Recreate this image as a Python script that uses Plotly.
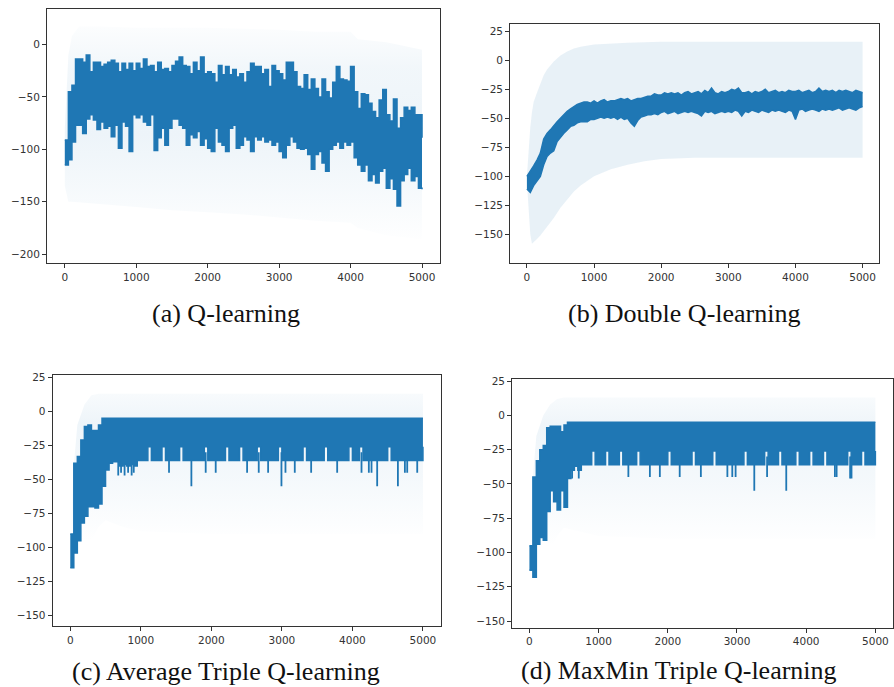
import plotly.graph_objects as go

# ---------------- data ----------------
EPISODES = list(range(0, 5001, 50))          # sample points of the dense mean curves
X_TICKS = [0, 1000, 2000, 3000, 4000, 5000]
A_Y_TICKS = [-200, -150, -100, -50, 0]
BCD_Y_TICKS = [-150, -125, -100, -75, -50, -25, 0, 25]

CAPTIONS = ["(a) Q-learning", "(b) Double Q-learning",
            "(c) Average Triple Q-learning", "(d) MaxMin Triple Q-learning"]

# (a) Q-learning : upper / lower envelope of the noisy mean reward curve
a_hi = [-91, -45, -39, -14, -14, -17, -10, -26, -17, -17,
        -21, -19, -17, -15, -18, -26, -18, -24, -18, -25,
        -18, -23, -14, -21, -20, -26, -17, -24, -23, -26,
        -20, -16, -12, -20, -21, -28, -17, -25, -12, -28,
        -26, -28, -36, -20, -29, -21, -29, -24, -31, -28,
        -36, -26, -18, -21, -21, -28, -24, -40, -20, -25,
        -28, -34, -17, -17, -26, -40, -42, -29, -43, -33,
        -42, -50, -33, -45, -51, -36, -21, -33, -34, -35,
        -21, -45, -61, -47, -48, -56, -64, -70, -53, -43,
        -67, -73, -52, -80, -70, -60, -63, -60, -67, -67,
        -89]
a_lo = [-115, -110, -93, -77, -77, -85, -71, -67, -72, -81,
        -74, -80, -78, -88, -77, -99, -74, -78, -102, -67,
        -70, -67, -74, -77, -67, -101, -89, -80, -96, -80,
        -71, -71, -77, -80, -96, -86, -89, -83, -96, -90,
        -99, -102, -80, -93, -96, -102, -80, -77, -99, -96,
        -88, -91, -102, -88, -91, -88, -93, -91, -96, -93,
        -102, -108, -96, -88, -93, -99, -100, -99, -105, -119,
        -105, -102, -113, -121, -100, -96, -93, -99, -93, -96,
        -93, -108, -115, -121, -115, -130, -124, -132, -121, -118,
        -137, -128, -138, -154, -130, -124, -118, -130, -126, -137,
        -138]
a_band_x = [0, 50, 100, 200, 500, 1000, 1500, 2000, 2500, 3000, 3500, 4000, 4100, 4500, 5000]
a_band_hi = [-80, -10, 8, 17, 17, 16, 16, 16, 15, 14, 12, 12, 5, 2, -5]
a_band_lo = [-135, -150, -150, -150, -152, -155, -158, -160, -162, -165, -168, -170, -175, -182, -186]

# (b) Double Q-learning
b_hi = [-100, -96, -91, -86, -80, -68, -63, -60, -56, -53,
        -50, -47, -44, -42, -40, -38, -37, -36, -36, -37,
        -35, -37, -35, -34, -36, -35, -35, -34, -33, -34,
        -33, -35, -34, -33, -33, -32, -31, -31, -29, -30,
        -30, -28, -29, -28, -29, -28, -30, -28, -27, -29,
        -28, -27, -29, -26, -28, -24, -28, -29, -27, -28,
        -27, -25, -26, -24, -28, -28, -27, -29, -27, -28,
        -27, -25, -28, -27, -26, -28, -27, -28, -26, -27,
        -27, -26, -28, -27, -26, -28, -27, -24, -27, -26,
        -27, -26, -28, -26, -27, -26, -27, -28, -26, -27,
        -28]
b_lo = [-111, -114, -108, -104, -100, -90, -83, -80, -78, -70,
        -66, -63, -60, -57, -56, -54, -53, -53, -53, -51,
        -51, -50, -49, -50, -49, -50, -49, -51, -49, -51,
        -50, -54, -57, -52, -49, -48, -47, -47, -46, -47,
        -45, -44, -46, -45, -44, -46, -45, -44, -45, -44,
        -45, -46, -48, -44, -45, -44, -46, -45, -44, -45,
        -44, -45, -43, -44, -48, -44, -45, -43, -44, -45,
        -43, -44, -45, -43, -44, -43, -44, -45, -43, -44,
        -51, -43, -42, -44, -43, -42, -43, -44, -42, -43,
        -42, -43, -42, -41, -43, -42, -41, -42, -43, -41,
        -40]
b_band_x = [0, 25, 50, 75, 100, 150, 200, 250, 300, 400, 500, 600, 700, 800,
            1000, 1250, 1500, 1750, 2000, 2500, 3000, 3500, 4000, 4500, 5000]
b_band_hi = [-100, -75, -58, -45, -36, -28, -20, -13, -8, -1, 4, 7.5, 10, 11.5,
             13.5, 14.5, 15, 15.5, 16, 16, 16, 16, 16, 16, 16]
b_band_lo = [-105, -130, -150, -158, -157, -154, -151, -147, -144, -136, -127, -120, -113, -108,
             -100, -94, -90, -87, -85, -84, -84, -84, -84, -84, -84]

# (c) Average Triple Q-learning
c_hi = [-90, -38, -33, -21, -11, -10, -14, -14, -10, -5,
        -5, -5, -5, -5, -5, -5, -5, -5, -5, -5,
        -5, -5, -5, -5, -5, -5, -5, -5, -5, -5,
        -5, -5, -5, -5, -5, -5, -5, -5, -5, -5,
        -5, -5, -5, -5, -5, -5, -5, -5, -5, -5,
        -5, -5, -5, -5, -5, -5, -5, -5, -5, -5,
        -5, -5, -5, -5, -5, -5, -5, -5, -5, -5,
        -5, -5, -5, -5, -5, -5, -5, -5, -5, -5,
        -5, -5, -5, -5, -5, -5, -5, -5, -5, -5,
        -5, -5, -5, -5, -5, -5, -5, -5, -5, -5,
        -5]
c_lo = [-115, -104, -95, -82, -77, -70, -70, -71, -68, -55,
        -43, -38, -37, -37, -40, -39, -40, -39, -40, -36,
        -36, -36, -26, -36, -36, -36, -26, -36, -36, -36,
        -36, -26, -36, -36, -36, -36, -36, -36, -26, -36,
        -36, -36, -36, -36, -26, -36, -36, -36, -26, -36,
        -36, -36, -36, -26, -36, -36, -36, -36, -36, -26,
        -36, -36, -36, -36, -36, -36, -26, -36, -36, -36,
        -36, -36, -26, -36, -36, -36, -36, -36, -36, -26,
        -36, -36, -26, -36, -36, -36, -36, -36, -36, -36,
        -26, -36, -36, -36, -36, -36, -36, -36, -36, -36,
        -26]
# thin downward spikes of the mean curve (episode, reward)
c_spike_x = [680, 720, 770, 820, 870, 900, 1400, 1717, 1920, 2062, 2507, 2672, 2805,
             2994, 3051, 3183, 3415, 3784, 4129, 4233, 4271, 4351, 4645, 4744, 4777, 4919]
c_spike_y = [-47, -45, -47, -45, -47, -45, -45, -55, -45, -45, -45, -45, -45,
             -55, -45, -45, -45, -45, -45, -45, -45, -55, -55, -45, -45, -45]
c_band_x = [0, 50, 100, 200, 300, 400, 500, 750, 1000, 2000, 3000, 4000, 5000]
c_band_hi = [-95, -40, -10, 5, 12, 13, 13, 13, 13, 13, 13, 13, 13]
c_band_lo = [-140, -135, -125, -110, -95, -85, -80, -85, -88, -90, -90, -90, -90]

# (d) MaxMin Triple Q-learning
d_hi = [-95, -45, -33, -25, -22, -9, -8, -8, -8, -12,
        -7, -5, -5, -5, -5, -5, -5, -5, -5, -5,
        -5, -5, -5, -5, -5, -5, -5, -5, -5, -5,
        -5, -5, -5, -5, -5, -5, -5, -5, -5, -5,
        -5, -5, -5, -5, -5, -5, -5, -5, -5, -5,
        -5, -5, -5, -5, -5, -5, -5, -5, -5, -5,
        -5, -5, -5, -5, -5, -5, -5, -5, -5, -5,
        -5, -5, -5, -5, -5, -5, -5, -5, -5, -5,
        -5, -5, -5, -5, -5, -5, -5, -5, -5, -5,
        -5, -5, -5, -5, -5, -5, -5, -5, -5, -5,
        -5]
d_lo = [-113, -118, -94, -89, -91, -70, -55, -63, -69, -55,
        -67, -46, -40, -37, -40, -36, -36, -36, -26, -36,
        -36, -36, -26, -36, -36, -36, -26, -36, -36, -36,
        -36, -26, -36, -36, -36, -36, -36, -36, -36, -36,
        -26, -36, -36, -36, -36, -36, -36, -26, -36, -36,
        -36, -36, -36, -26, -36, -36, -36, -36, -36, -36,
        -36, -36, -26, -36, -36, -36, -36, -36, -26, -36,
        -36, -36, -26, -36, -36, -36, -36, -26, -36, -36,
        -36, -26, -36, -36, -36, -26, -36, -36, -36, -36,
        -36, -36, -26, -36, -36, -36, -26, -36, -36, -36,
        -26]
d_spike_x = [617, 713, 1430, 1741, 1885, 2172, 2478, 2861, 2932, 2980,
             3250, 3435, 3712, 4415, 4440, 4635, 4655]
d_spike_y = [-46, -46, -45, -45, -45, -45, -45, -45, -45, -45,
             -55, -45, -55, -45, -45, -46, -46]
d_band_x = [0, 50, 100, 200, 300, 400, 500, 750, 1000, 2000, 3000, 4000, 5000]
d_band_hi = [-100, -45, -15, 0, 8, 12, 13, 13, 13, 13, 13, 13, 13]
d_band_lo = [-145, -140, -130, -115, -100, -88, -82, -85, -88, -90, -90, -90, -90]

for arr in (a_hi, a_lo, b_hi, b_lo, c_hi, c_lo, d_hi, d_lo):
    assert len(arr) == len(EPISODES)
assert len(c_spike_x) == len(c_spike_y) and len(d_spike_x) == len(d_spike_y)

# ---------------- styling / layout ----------------
W, H = 894, 687
BLUE = "#1f77b4"
TICK_FONT = dict(family="DejaVu Sans", size=10.5, color="#333333")
CAP_FONT = dict(family="Liberation Serif", size=26, color="#111111")


def px_x(v):
    return v / W


def px_y(v):
    return 1 - v / H


# pixel boxes of the four axes (left, right, top, bottom)
BOXES = [(47, 440.3, 5, 261), (510.7, 880.3, 20, 261),
         (52.7, 441, 372.7, 625.7), (512.7, 893.6, 376.7, 627.3)]
Y_RANGES = [[-208.8, 33.8], [-175.1, 31.3], [-157.8, 27.2], [-154.8, 26.9]]
X_RANGE = [-250, 5249]
CAP_POS = [(226, 311), (684.5, 311), (226.7, 671.5), (680, 670.5)]


def rgba(a):
    return f"rgba(31,119,180,{a})"


GRAD_A = dict(type="vertical", start=-190, stop=20,
              colorscale=[[0, rgba(0)], [0.3, rgba(0.05)], [0.5, rgba(0.08)],
                          [0.8, rgba(0.06)], [1, rgba(0.01)]])
GRAD_CD = dict(type="vertical", start=-95, stop=14,
               colorscale=[[0, rgba(0)], [0.45, rgba(0.05)], [0.8, rgba(0.075)],
                           [1, rgba(0.03)]])

panels = [
    (a_band_x, a_band_hi, a_band_lo, GRAD_A, a_hi, a_lo, "hv", None, None),
    (b_band_x, b_band_hi, b_band_lo, None, b_hi, b_lo, "linear", None, None),
    (c_band_x, c_band_hi, c_band_lo, GRAD_CD, c_hi, c_lo, "hv", c_spike_x, c_spike_y),
    (d_band_x, d_band_hi, d_band_lo, GRAD_CD, d_hi, d_lo, "hv", d_spike_x, d_spike_y),
]

fig = go.Figure()
layout = dict(width=W, height=H, margin=dict(l=0, r=0, t=0, b=0),
              paper_bgcolor="white", plot_bgcolor="white", showlegend=False)

for i, (bx, bhi, blo, grad, hi, lo, shape, sx, sy) in enumerate(panels):
    n = "" if i == 0 else str(i + 1)
    xa, ya = "x" + n, "y" + n
    band = dict(x=bx + bx[::-1], y=bhi + blo[::-1], fill="toself", mode="lines",
                line=dict(width=0, color="rgba(0,0,0,0)"), hoverinfo="skip",
                xaxis=xa, yaxis=ya)
    if grad is None:
        band["fillcolor"] = rgba(0.1)
    else:
        band["fillgradient"] = grad
    fig.add_trace(go.Scatter(**band))
    if sx is not None:
        seg_x, seg_y = [], []
        for ex, ey in zip(sx, sy):
            seg_x += [ex, ex, None]
            seg_y += [-30, ey, None]
        fig.add_trace(go.Scatter(x=seg_x, y=seg_y, mode="lines",
                                 line=dict(color=BLUE, width=1.8),
                                 hoverinfo="skip", xaxis=xa, yaxis=ya))
    fig.add_trace(go.Scatter(x=EPISODES, y=lo, mode="lines",
                             line=dict(color=BLUE, width=1.5, shape=shape),
                             hoverinfo="skip", xaxis=xa, yaxis=ya))
    fig.add_trace(go.Scatter(x=EPISODES, y=hi, mode="lines", fill="tonexty",
                             fillcolor=BLUE,
                             line=dict(color=BLUE, width=1.5, shape=shape),
                             hoverinfo="skip", xaxis=xa, yaxis=ya))

    l, r, t, b = BOXES[i]
    yt = A_Y_TICKS if i == 0 else BCD_Y_TICKS
    common = dict(showline=True, mirror=True, linecolor="#333333", linewidth=1,
                  ticks="outside", ticklen=4, tickwidth=1, tickcolor="#333333",
                  showgrid=False, zeroline=False, tickfont=TICK_FONT)
    layout["xaxis" + n] = dict(domain=[px_x(l), px_x(r)], range=X_RANGE,
                               anchor=ya, tickvals=X_TICKS,
                               ticktext=[str(v) for v in X_TICKS], **common)
    layout["yaxis" + n] = dict(domain=[px_y(b), px_y(t)], range=Y_RANGES[i],
                               anchor=xa, tickvals=yt,
                               ticktext=[str(v).replace("-", "\u2212") for v in yt],
                               **common)

annotations = []
for (cx, cy), txt in zip(CAP_POS, CAPTIONS):
    annotations.append(dict(text=txt, x=px_x(cx), y=px_y(cy), xref="paper", yref="paper",
                             xanchor="center", yanchor="middle", showarrow=False,
                             font=CAP_FONT))
layout["annotations"] = annotations

fig.update_layout(**layout)
fig.write_html("out.html")
